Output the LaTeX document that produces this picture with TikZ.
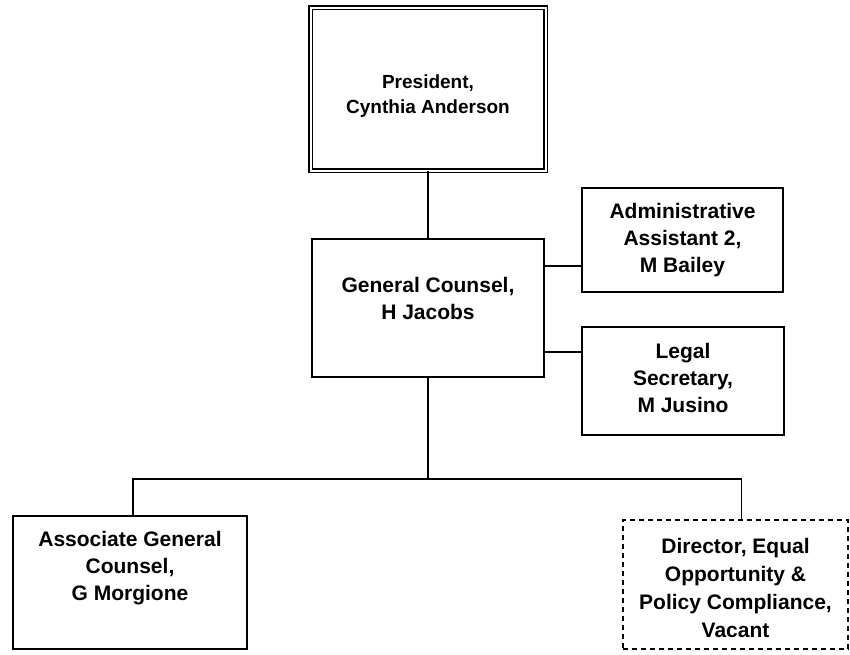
\documentclass[tikz,border=0pt]{standalone}
\usepackage{fontspec}
\setmainfont{Liberation Sans}
\usetikzlibrary{
    positioning,
    calc,
}

\begin{document}
\begin{tikzpicture}[
    x=1pt, y=-1pt,
    unit/.style={draw, line width=1.6pt, inner sep=0pt},
    head/.style={draw, line width=1.8pt, double, double distance=2pt, inner sep=0pt},
    vacant/.style={unit, dash pattern=on 5pt off 4pt},
    txt/.style={align=center, font=\fontsize{21}{27}\selectfont\bfseries},
    link/.style={line width=1.6pt},
]
\useasboundingbox (0,0) rectangle (850,654);

\node[head, minimum width=235pt, minimum height=163pt,
      label={[txt, font=\fontsize{19}{25}\selectfont\bfseries, yshift=-7pt]center:{President,\\Cynthia Anderson}}]
      at (428,89) (president) {};
\node[unit, minimum width=232pt, minimum height=138pt,
      label={[txt, yshift=10pt]center:{General Counsel,\\H Jacobs}}]
      at (428,308) (counsel) {};

\node[unit, minimum width=201pt, minimum height=104pt,
      label={[txt]center:{Administrative\\Assistant 2,\\M Bailey}}]
      at (682.5,240) (adminAsst) {};
\node[unit, minimum width=202pt, minimum height=108pt,
      label={[txt, yshift=3pt]center:{Legal\\Secretary,\\M Jusino}}]
      at (683,381) (legalSec) {};

\node[unit, minimum width=234pt, minimum height=133pt,
      label={[txt, yshift=14pt]center:{Associate General\\Counsel,\\G Morgione}}]
      at (130,582.5) (assocCounsel) {};
\node[vacant, minimum width=225pt, minimum height=129pt,
      label={[txt, font=\fontsize{21}{28}\selectfont\bfseries, yshift=-3pt]center:{Director, Equal\\Opportunity \&\\Policy Compliance,\\Vacant}}]
      at (735.5,584.5) (eeoDirector) {};

\draw[link] (president.south) -- (president.south |- counsel.north);

\coordinate (adminIn) at ([yshift=-26pt]adminAsst.west);
\draw[link] (adminIn -| counsel.east) -- (adminIn);
\coordinate (legalIn) at ([yshift=29pt]legalSec.west);
\draw[link] (legalIn -| counsel.east) -- (legalIn);

\coordinate (split) at ([yshift=-101pt]counsel.south);
\draw[link] (counsel.south) -- (split);
\draw[link] (split) -| ([xshift=3pt]assocCounsel.north);
\draw[link] (split) -| ([xshift=6pt]eeoDirector.north);

\end{tikzpicture}
\end{document}
